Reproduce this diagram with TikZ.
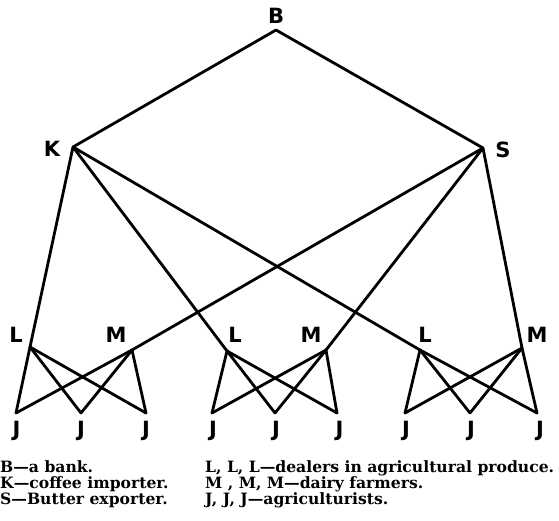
\documentclass[tikz,border=0pt]{standalone}
\usepackage{fontspec}
\setmainfont{DejaVu Serif}
\newfontfamily\labfont{DejaVu Sans}
\begin{document}
\begin{tikzpicture}[x=1pt,y=-1pt,
  lab/.style={font=\labfont\bfseries\fontsize{21}{21}\selectfont, inner sep=0pt},
  edge/.style={line width=2.8pt, line cap=round, line join=round},
  legend/.style={font=\bfseries\fontsize{15.6}{15.6}\selectfont, inner sep=0pt, anchor=base west}]
\useasboundingbox (0,0) rectangle (559,520);
% vertices
\coordinate (B) at (276,30);
\coordinate (K) at (73,147);
\coordinate (S) at (483,148);
\coordinate (L1) at (30,347);
\coordinate (M1) at (132,350);
\coordinate (L2) at (227,351);
\coordinate (M2) at (326,350);
\coordinate (L3) at (420,350);
\coordinate (M3) at (522,348);
\coordinate (J11) at (16,413);
\coordinate (J12) at (81,413);
\coordinate (J13) at (146,413);
\coordinate (J21) at (212,413);
\coordinate (J22) at (275,413);
\coordinate (J23) at (337,413);
\coordinate (J31) at (405,413);
\coordinate (J32) at (470,413);
\coordinate (J33) at (537,413);
% labels
\node[lab] (Bl) at (276,15.5) {B};
\node[lab] (Kl) at (52,149) {K};
\node[lab] (Sl) at (503,149.5) {S};
\node[lab] (L1l) at (16,335) {L};
\node[lab] (M1l) at (116,335) {M};
\node[lab] (L2l) at (235,335) {L};
\node[lab] (M2l) at (311,335) {M};
\node[lab] (L3l) at (425,335) {L};
\node[lab] (M3l) at (537,335) {M};
\node[lab] (J11l) at (16.5,431) {J};
\node[lab] (J12l) at (81,431) {J};
\node[lab] (J13l) at (146,431) {J};
\node[lab] (J21l) at (213,431) {J};
\node[lab] (J22l) at (276,431) {J};
\node[lab] (J23l) at (339.5,431) {J};
\node[lab] (J31l) at (406,431) {J};
\node[lab] (J32l) at (471,431) {J};
\node[lab] (J33l) at (540,431) {J};
% edges
\draw[edge] (K) -- (B) -- (S);
\draw[edge] (K) -- (L1) (K) -- (L2) (K) -- (L3);
\draw[edge] (S) -- (M1) (S) -- (M2) (S) -- (M3);
\foreach \g in {1,2,3}{
  \foreach \j in {1,2,3}{
    \draw[edge] (L\g) -- (J\g\j);
    \draw[edge] (M\g) -- (J\g\j);
  }
}
% legend
\node[legend] (t1) at (0,472) {B---a bank.};
\node[legend] (t2) at (0,488) {K---coffee importer.};
\node[legend] (t3) at (0,504) {S---Butter exporter.};
\node[legend] (t4) at (205,472) {L, L, L---dealers in agricultural produce.};
\node[legend] (t5) at (205,488) {M , M, M---dairy farmers.};
\node[legend] (t6) at (205,504) {J, J, J---agriculturists.};
\end{tikzpicture}
\end{document}
